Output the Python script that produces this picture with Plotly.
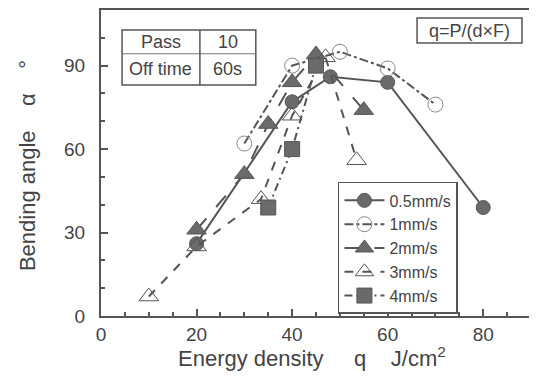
import plotly.graph_objects as go

# Data
x_05 = [20, 40, 48, 60, 80]
y_05 = [26, 77, 86, 84, 39]

x_1 = [30, 40, 50, 60, 70]
y_1 = [62, 90, 95, 89, 76]

x_2 = [20, 30, 35, 40, 45, 55]
y_2 = [31, 51, 69, 84, 94, 74]

x_3 = [10, 20, 33.5, 40, 47, 53.5]
y_3 = [7, 25, 42, 72, 93, 56]

x_4 = [35, 40, 45]
y_4 = [39, 60, 90]

series_names = ["0.5mm/s", "1mm/s", "2mm/s", "3mm/s", "4mm/s"]
x_ticks = [0, 20, 40, 60, 80]
y_ticks = [0, 30, 60, 90]

FONT = "Arial, Liberation Sans, sans-serif"
LC = "#555555"
FC = "#6a6a6a"
TC = "#444444"

fig = go.Figure()
fig.add_trace(go.Scatter(x=x_05, y=y_05, name=series_names[0], mode="lines+markers",
                         line=dict(color=LC, width=2, dash="solid"),
                         marker=dict(symbol="circle", size=14, color=FC, line=dict(color="#555", width=1))))
fig.add_trace(go.Scatter(x=x_1, y=y_1, name=series_names[1], mode="lines+markers",
                         line=dict(color=LC, width=2, dash="dashdot"),
                         marker=dict(symbol="circle-open", size=15, color="#888", line=dict(width=1))))
fig.add_trace(go.Scatter(x=x_2, y=y_2, name=series_names[2], mode="lines+markers",
                         line=dict(color=LC, width=2, dash="longdash"),
                         marker=dict(symbol="triangle-up", size=17, color=FC, line=dict(color="#555", width=1))))
fig.add_trace(go.Scatter(x=x_3, y=y_3, name=series_names[3], mode="lines+markers",
                         line=dict(color=LC, width=2, dash="dash"),
                         marker=dict(symbol="triangle-up-open", size=17, color="#555", line=dict(width=1))))
fig.add_trace(go.Scatter(x=x_4, y=y_4, name=series_names[4], mode="lines+markers",
                         line=dict(color=LC, width=2, dash="8px,4px,2px,4px"),
                         marker=dict(symbol="square", size=15, color=FC, line=dict(color="#555", width=1))))

axis_common = dict(showline=True, mirror=True, linecolor=LC, linewidth=2,
                   ticks="inside", ticklen=7, tickwidth=1.5, tickcolor=LC,
                   showgrid=False, zeroline=False, automargin=False,
                   tickfont=dict(family=FONT, size=19, color=TC))

fig.update_xaxes(range=[0, 90], tickvals=x_ticks, ticktext=[str(v) for v in x_ticks],
                 minor=dict(dtick=5, tick0=0, ticks="inside", ticklen=4, tickcolor=LC, showgrid=False),
                 ticklabelstandoff=0,
                 **axis_common)
fig.update_yaxes(range=[0, 110], tickvals=y_ticks, ticktext=[str(v) for v in y_ticks],
                 minor=dict(dtick=10, tick0=0, ticks="inside", ticklen=4, tickcolor=LC, showgrid=False),
                 ticklabelstandoff=10,
                 **axis_common)

shapes = []
# Table box
tx0, tx1, ty0, ty1 = 0.049, 0.360, 0.755, 0.935
tmid_y = 0.857
tmid_x = 0.230
shapes.append(dict(type="rect", xref="paper", yref="paper", x0=tx0, x1=tx1, y0=ty0, y1=ty1,
                   line=dict(color="#555", width=1.5)))
shapes.append(dict(type="line", xref="paper", yref="paper", x0=tx0, x1=tx1, y0=tmid_y, y1=tmid_y,
                   line=dict(color="#777", width=1)))
shapes.append(dict(type="line", xref="paper", yref="paper", x0=tmid_x, x1=tmid_x, y0=ty0, y1=ty1,
                   line=dict(color="#555", width=1.5)))
# Formula box
shapes.append(dict(type="rect", xref="paper", yref="paper", x0=0.735, x1=0.979, y0=0.892, y1=0.974,
                   line=dict(color="#555", width=1.5)))

annotations = []
def txt(x, y, s, size=18, angle=0):
    annotations.append(dict(xref="paper", yref="paper", x=x, y=y, text=s, showarrow=False,
                            xanchor="center", yanchor="middle", textangle=angle,
                            font=dict(family=FONT, size=size, color=TC)))
txt((tx0 + tmid_x) / 2, (tmid_y + ty1) / 2, "Pass")
txt((tmid_x + tx1) / 2, (tmid_y + ty1) / 2, "10")
txt((tx0 + tmid_x) / 2, (ty0 + tmid_y) / 2, "Off time")
txt((tmid_x + tx1) / 2, (ty0 + tmid_y) / 2, "60s")
txt((0.735 + 0.979) / 2, (0.892 + 0.974) / 2, "q=P/(d×F)")

# Axis titles
txt(0.49, -0.135, "Energy density&nbsp;&nbsp;&nbsp;&nbsp;&nbsp;q&nbsp;&nbsp;&nbsp;&nbsp;J/cm<sup>2</sup>", size=22)
txt(-0.172, 0.49, "Bending angle&nbsp;&nbsp;&nbsp;&nbsp;α&nbsp;&nbsp;&nbsp;&nbsp;°", size=22, angle=-90)

# The page body has an 8px default margin; compensate so the plot area sits where the reference has it.
fig.update_layout(
    width=529, height=373,
    margin=dict(l=93, r=6, t=2, b=65),
    paper_bgcolor="white", plot_bgcolor="white",
    font=dict(family=FONT, color=TC),
    shapes=shapes, annotations=annotations,
    legend=dict(x=0.551, y=0.438, xanchor="left", yanchor="top",
                bordercolor="#555", borderwidth=1.5, bgcolor="white",
                font=dict(family=FONT, size=16, color=TC),
                tracegroupgap=0, itemwidth=40),
)

fig.write_html("out.html")
